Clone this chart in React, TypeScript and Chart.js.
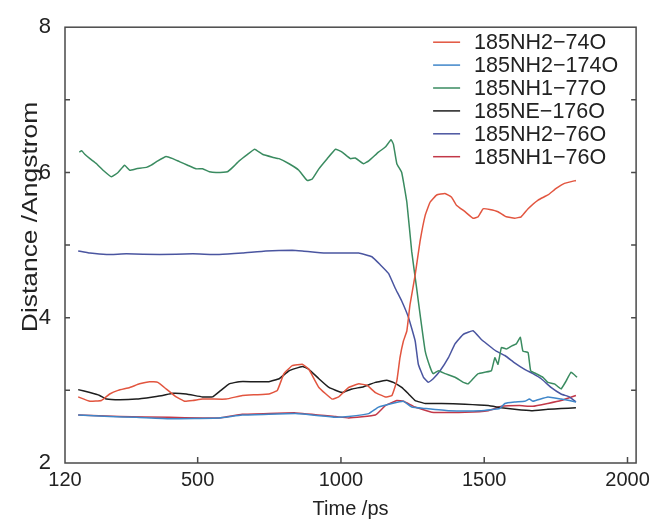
import React, { useEffect, useRef } from "react";
import { Chart, registerables } from "chart.js";

Chart.register(...registerables);

const FONT = "'Liberation Sans', Arial, Helvetica, sans-serif";

// Series labels and colours
const seriesLabels = [
  "185NH2\u221274O",
  "185NH2\u2212174O",
  "185NH1\u221277O",
  "185NE\u2212176O",
  "185NH2\u221276O",
  "185NH1\u221276O",
];
const seriesColors = ["#e2553f", "#3f86c9", "#3a8b60", "#1e1e1e", "#4a55a0", "#c23848"];

// 185NH2-74O
const nh2_74_t = [83, 124, 164, 193, 222, 263, 297, 332, 361, 390, 425, 454, 483, 517, 552, 599, 656, 703, 749, 778, 801, 830, 865, 888, 923, 969, 992, 1027, 1062, 1091, 1120, 1155, 1178, 1195, 1206, 1218, 1230, 1241, 1259, 1276, 1294, 1311, 1334, 1363, 1386, 1403, 1433, 1461, 1479, 1496, 1519, 1548, 1577, 1606, 1629, 1653, 1688, 1722, 1751, 1780, 1820];
const nh2_74_v = [2.91, 2.85, 2.86, 2.95, 3.0, 3.04, 3.09, 3.12, 3.11, 3.02, 2.91, 2.85, 2.86, 2.88, 2.88, 2.88, 2.93, 2.94, 2.95, 3.0, 3.23, 3.34, 3.36, 3.29, 3.04, 2.88, 2.91, 3.04, 3.09, 3.07, 2.97, 2.91, 2.93, 3.13, 3.45, 3.68, 3.82, 4.18, 4.59, 5.05, 5.41, 5.59, 5.69, 5.71, 5.66, 5.55, 5.46, 5.37, 5.39, 5.5, 5.49, 5.46, 5.39, 5.37, 5.39, 5.5, 5.62, 5.69, 5.78, 5.85, 5.89];

// 185NH2-174O
const nh2_174_t = [83, 193, 286, 402, 575, 655, 842, 981, 1027, 1097, 1131, 1178, 1218, 1247, 1294, 1375, 1490, 1554, 1572, 1606, 1641, 1658, 1670, 1722, 1768, 1797, 1820];
const nh2_174_v = [2.66, 2.64, 2.63, 2.61, 2.62, 2.66, 2.68, 2.63, 2.64, 2.68, 2.77, 2.82, 2.85, 2.77, 2.75, 2.72, 2.72, 2.75, 2.82, 2.84, 2.85, 2.88, 2.85, 2.91, 2.88, 2.86, 2.84];

// 185NH1-77O
const nh1_77_t = [87, 95, 106, 124, 147, 170, 199, 222, 245, 263, 286, 321, 338, 361, 390, 413, 436, 465, 494, 517, 541, 564, 604, 622, 645, 674, 699, 726, 761, 784, 819, 853, 882, 900, 923, 952, 981, 1004, 1033, 1050, 1079, 1097, 1131, 1155, 1175, 1183, 1195, 1212, 1230, 1247, 1264, 1276, 1294, 1311, 1322, 1340, 1363, 1398, 1427, 1444, 1461, 1479, 1502, 1525, 1537, 1548, 1560, 1577, 1595, 1612, 1626, 1635, 1653, 1662, 1681, 1705, 1722, 1745, 1768, 1786, 1803, 1824];
const nh1_77_v = [6.28, 6.3, 6.25, 6.19, 6.12, 6.03, 5.94, 6.0, 6.1, 6.03, 6.05, 6.07, 6.1, 6.16, 6.22, 6.19, 6.15, 6.1, 6.05, 6.05, 6.01, 6.0, 6.01, 6.07, 6.16, 6.25, 6.32, 6.25, 6.21, 6.19, 6.12, 6.03, 5.89, 5.91, 6.05, 6.19, 6.32, 6.28, 6.19, 6.2, 6.12, 6.16, 6.28, 6.35, 6.45, 6.39, 6.12, 6.0, 5.59, 4.91, 4.41, 4.05, 3.54, 3.32, 3.23, 3.27, 3.23, 3.18, 3.11, 3.09, 3.16, 3.23, 3.25, 3.27, 3.45, 3.36, 3.59, 3.57, 3.61, 3.64, 3.73, 3.54, 3.52, 3.27, 3.23, 3.18, 3.11, 3.09, 3.02, 3.13, 3.25, 3.18];

// 185NE-176O
const ne_176_t = [83, 124, 158, 182, 228, 286, 344, 378, 413, 460, 517, 552, 581, 610, 645, 691, 749, 784, 819, 865, 888, 923, 958, 1004, 1039, 1079, 1120, 1160, 1183, 1212, 1236, 1259, 1294, 1351, 1433, 1514, 1560, 1606, 1664, 1722, 1768, 1820];
const ne_176_v = [3.01, 2.97, 2.93, 2.88, 2.87, 2.88, 2.91, 2.93, 2.96, 2.95, 2.91, 2.91, 3.0, 3.09, 3.12, 3.12, 3.12, 3.16, 3.27, 3.33, 3.29, 3.16, 3.04, 2.97, 3.02, 3.05, 3.11, 3.14, 3.11, 3.04, 2.95, 2.86, 2.82, 2.82, 2.81, 2.79, 2.76, 2.74, 2.72, 2.74, 2.75, 2.76];

// 185NH2-76O
const nh2_76_t = [83, 124, 182, 251, 367, 483, 575, 656, 738, 830, 865, 946, 1062, 1108, 1137, 1166, 1189, 1212, 1236, 1259, 1270, 1288, 1305, 1322, 1346, 1375, 1398, 1427, 1461, 1490, 1525, 1542, 1572, 1606, 1641, 1670, 1699, 1733, 1768, 1797, 1820];
const nh2_76_v = [4.92, 4.89, 4.87, 4.88, 4.87, 4.88, 4.87, 4.89, 4.92, 4.93, 4.92, 4.89, 4.89, 4.84, 4.73, 4.61, 4.41, 4.23, 4.0, 3.68, 3.36, 3.18, 3.11, 3.16, 3.27, 3.45, 3.64, 3.77, 3.82, 3.7, 3.59, 3.54, 3.48, 3.38, 3.29, 3.23, 3.16, 3.04, 2.95, 2.91, 2.84];

// 185NH1-76O
const nh1_76_t = [83, 228, 402, 575, 655, 842, 981, 1027, 1120, 1155, 1195, 1218, 1259, 1317, 1433, 1514, 1560, 1623, 1670, 1722, 1768, 1820];
const nh1_76_v = [2.66, 2.64, 2.63, 2.62, 2.67, 2.69, 2.64, 2.62, 2.66, 2.79, 2.86, 2.85, 2.77, 2.7, 2.7, 2.72, 2.78, 2.79, 2.78, 2.82, 2.86, 2.93];

const seriesTimes = [nh2_74_t, nh2_174_t, nh1_77_t, ne_176_t, nh2_76_t, nh1_76_t];
const seriesValues = [nh2_74_v, nh2_174_v, nh1_77_v, ne_176_v, nh2_76_v, nh1_76_v];

// Axes
const xMin = 37;
const xMax = 2030;
const xTickValues = [37, 500, 1000, 1500, 2000];
const xTickLabels = ["120", "500", "1000", "1500", "2000"];
const yMin = 2;
const yMax = 8;
const yLabelValues = [2, 4, 6, 8];
const yInnerTicks = [3, 4, 5, 6, 7];
const xInnerTicks = [500, 1000, 1500, 2000];
const xTitle = "Time /ps";
const yTitle = "Distance /Angstrom";

const framePlugin = {
  id: "frame",
  afterDatasetsDraw(chart: any) {
    const { ctx, chartArea: a, scales } = chart;
    ctx.save();
    ctx.strokeStyle = "#4a4a4a";
    ctx.lineWidth = 1.5;
    ctx.strokeRect(a.left, a.top, a.right - a.left, a.bottom - a.top);
    ctx.beginPath();
    for (const v of xInnerTicks) {
      const x = scales.x.getPixelForValue(v);
      ctx.moveTo(x, a.bottom);
      ctx.lineTo(x, a.bottom - 6);
    }
    for (const v of yInnerTicks) {
      const y = scales.y.getPixelForValue(v);
      ctx.moveTo(a.left, y);
      ctx.lineTo(a.left + 5, y);
      ctx.moveTo(a.right, y);
      ctx.lineTo(a.right - 5, y);
    }
    ctx.stroke();

    // legend
    const lx = a.right - 203;
    const ty = a.top + 15;
    ctx.font = `21.5px ${FONT}`;
    ctx.textBaseline = "middle";
    ctx.textAlign = "left";
    chart.data.datasets.forEach((ds: any, i: number) => {
      const y = ty + i * 22.9;
      ctx.strokeStyle = ds.borderColor;
      ctx.lineWidth = 1.5;
      ctx.beginPath();
      ctx.moveTo(lx, y);
      ctx.lineTo(lx + 27, y);
      ctx.stroke();
      ctx.fillStyle = "#222";
      ctx.fillText(ds.label, lx + 41, y + 1);
    });

    // y title
    ctx.save();
    ctx.translate(37, 217);
    ctx.rotate(-Math.PI / 2);
    ctx.scale(1.2, 1);
    ctx.font = `22px ${FONT}`;
    ctx.textAlign = "center";
    ctx.textBaseline = "alphabetic";
    ctx.fillStyle = "#222";
    ctx.fillText(yTitle, 0, 0);
    ctx.restore();
    ctx.restore();
  },
};

export default function App() {
  const ref = useRef<HTMLCanvasElement | null>(null);
  useEffect(() => {
    if (!ref.current) return;
    const chart = new Chart(ref.current, {
      type: "line",
      data: {
        datasets: seriesLabels.map((label, i) => ({
          label,
          data: seriesTimes[i].map((t, j) => ({ x: t, y: seriesValues[i][j] })),
          borderColor: seriesColors[i],
          backgroundColor: seriesColors[i],
          borderWidth: 1.5,
          pointRadius: 0,
          tension: 0.1,
          fill: false,
        })),
      },
      options: {
        responsive: false,
        animation: false,
        layout: { padding: { top: 24, right: 16.5, bottom: 0, left: 0 } },
        plugins: { legend: { display: false }, tooltip: { enabled: false } },
        scales: {
          x: {
            type: "linear",
            min: xMin,
            max: xMax,
            grid: { display: false, drawTicks: false },
            border: { display: false },
            afterBuildTicks: (s: any) => {
              s.ticks = xTickValues.map((v) => ({ value: v }));
            },
            afterFit: (s: any) => {
              s.height = 56;
            },
            ticks: {
              autoSkip: false,
              maxRotation: 0,
              padding: 5,
              color: "#222",
              font: { family: FONT, size: 20 },
              callback: (v: any) => {
                const i = xTickValues.indexOf(Number(v));
                return i >= 0 ? xTickLabels[i] : "";
              },
            },
            title: {
              display: true,
              text: xTitle,
              color: "#222",
              font: { family: FONT, size: 20 },
              padding: { top: 0, bottom: -2 },
            },
          },
          y: {
            type: "linear",
            min: yMin,
            max: yMax,
            grid: { display: false, drawTicks: false },
            border: { display: false },
            afterFit: (s: any) => {
              s.width = 65;
            },
            ticks: {
              stepSize: 1,
              padding: 14,
              color: "#222",
              font: { family: FONT, size: 22 },
              callback: (v: any) => (yLabelValues.includes(Number(v)) ? String(v) : ""),
            },
          },
        },
      },
      plugins: [framePlugin],
    });
    return () => chart.destroy();
  }, []);
  return (
    <div style={{ position: "fixed", left: 0, top: 0, width: 655, height: 519, background: "#fff" }}>
      <canvas ref={ref} width={655} height={519} style={{ display: "block" }} />
    </div>
  );
}
